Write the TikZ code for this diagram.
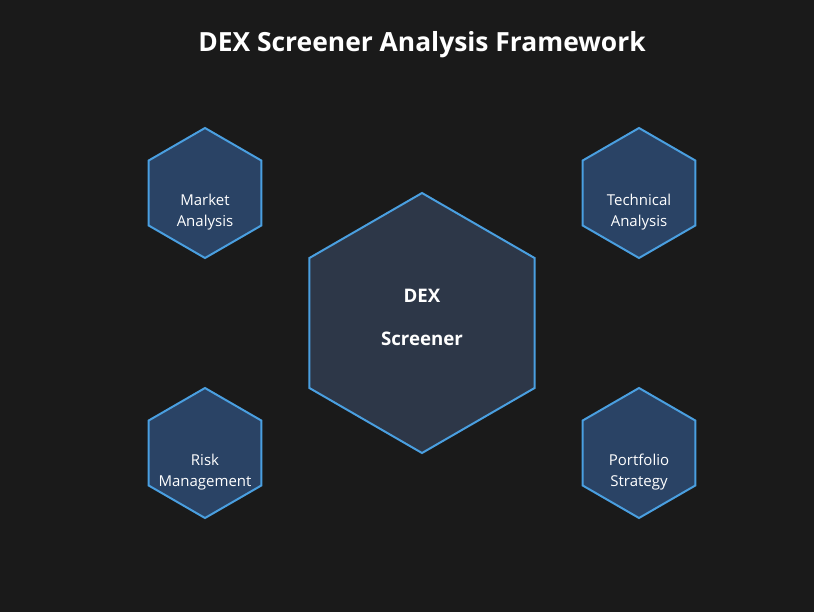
\documentclass[tikz,border=0pt]{standalone}
\usepackage{fontspec}
\setmainfont{Open Sans}
\usetikzlibrary{shapes.geometric}
\definecolor{ScreenBg}{HTML}{1A1A1A}
\definecolor{HubFill}{HTML}{2D3748}
\definecolor{CellFill}{HTML}{2A4365}
\definecolor{CellEdge}{HTML}{4A9FE0}

\begin{document}
\begin{tikzpicture}[x=0.75pt, y=-0.75pt]
    \tikzstyle{hexcell}=[regular polygon, regular polygon sides=6, shape border rotate=30, inner sep=0pt, outer sep=0pt, draw=CellEdge, line width=1.5pt]
    \tikzstyle{hub}=[hexcell, fill=HubFill, minimum size=195pt]
    \tikzstyle{cell}=[hexcell, fill=CellFill, minimum size=97.5pt]
    \tikzstyle{celltext}=[text=white, font=\fontsize{11.25}{15.75}\selectfont, align=center]
    \fill[ScreenBg] (0,0) rectangle (814,612);
    \useasboundingbox (0,0) rectangle (814,612);
    % title
    \node[text=white, font=\fontsize{19.8}{24}\selectfont\bfseries] (title) at (422,45) {DEX Screener Analysis Framework};
    % central hexagon
    \node[hub] (dex) at (422,323) {};
    \node[text=white, font=\fontsize{14}{17}\selectfont\bfseries] (dexA) at (422,296) {DEX};
    \node[text=white, font=\fontsize{14}{17}\selectfont\bfseries] (dexB) at (422,339) {Screener};
    % surrounding hexagons
    \node[cell] (market) at (205,193) {};
    \node[celltext] (marketT) at (205,212) {Market\\Analysis};
    \node[cell] (technical) at (639,193) {};
    \node[celltext] (technicalT) at (639,212) {Technical\\Analysis};
    \node[cell] (risk) at (205,453) {};
    \node[celltext] (riskT) at (205,472) {Risk\\Management};
    \node[cell] (portfolio) at (639,453) {};
    \node[celltext] (portfolioT) at (639,472) {Portfolio\\Strategy};
\end{tikzpicture}
\end{document}
